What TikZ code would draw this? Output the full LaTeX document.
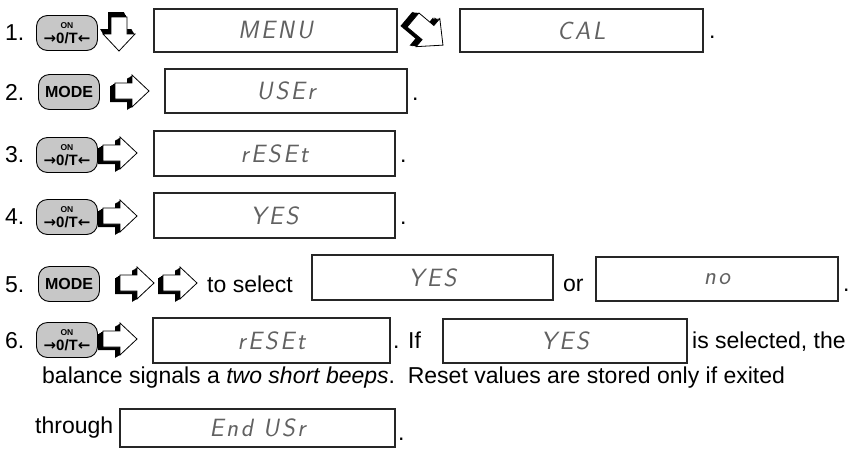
\documentclass[tikz,border=0pt]{standalone}
\usepackage{fontspec}
\setmainfont{Liberation Sans}
\newfontfamily\segfont{Latin Modern Sans}[LetterSpace=10,FakeSlant=0.18]
\newfontfamily\arrfont{DejaVu Sans}
\newcommand\onkey{{\fontsize{8.5}{9}\selectfont ON}\\[3pt]{\fontsize{15}{15}\selectfont{\arrfont\bfseries →}0/T{\arrfont\bfseries ←}}}
\begin{document}
\begin{tikzpicture}[x=1pt,y=-1pt,
  disp/.style={draw=black!85,line width=1.5pt,inner sep=0pt,
    font=\segfont\fontsize{25}{25}\selectfont,text=black!62},
  btn/.style={draw=black,line width=0.9pt,rounded corners=11pt,fill=black!22,
    minimum width=61pt,minimum height=35pt,inner sep=0pt,align=center,
    font=\bfseries\fontsize{16}{10}\selectfont},
  txt/.style={anchor=base west,inner sep=0pt,font=\fontsize{23}{27}\selectfont},
  blkarrow/.pic={
    \foreach \s in {0.2,0.4,...,1.0}{
      \fill[black,shift={(-5*\s,3*\s)}] (0,-8) -- (17,-8) -- (17,-16) -- (34,0) -- (17,16) -- (17,8) -- (0,8) -- cycle;}
    \draw[fill=white,line width=0.8pt,line join=miter] (0,-8) -- (17,-8) -- (17,-16) -- (34,0) -- (17,16) -- (17,8) -- (0,8) -- cycle;
  }]
\useasboundingbox (0,0) rectangle (853,448);

% ---- row 1
\node[txt] (n1) at (5,40) {1.};
\node[btn] (k1) at (67,33) {\onkey};
\pic[rotate=-90] at (119,17) {blkarrow};
\node[disp,minimum width=243pt,minimum height=43pt] (d1) at (275.5,30.5) {MENU};
\pic[rotate=-40,scale=1.15] at (413,20) {blkarrow};
\node[disp,minimum width=243pt,minimum height=43pt] (d2) at (581.5,30.5) {CAL};
\node[txt] (p1) at (709,38) {.};

% ---- row 2
\node[txt] (n2) at (5,100) {2.};
\node[btn] (k2) at (69,92) {MODE};
\pic at (115,91) {blkarrow};
\node[disp,minimum width=242pt,minimum height=44pt] (d3) at (286,91) {USEr};
\node[txt] (p2) at (412,100) {.};

% ---- row 3
\node[txt] (n3) at (5,162) {3.};
\node[btn] (k3) at (67,155) {\onkey};
\pic at (103,153) {blkarrow};
\node[disp,minimum width=241pt,minimum height=45pt] (d4) at (274.5,153.5) {rESEt};
\node[txt] (p3) at (400,162) {.};

% ---- row 4
\node[txt] (n4) at (5,224) {4.};
\node[btn] (k4) at (67,217) {\onkey};
\pic at (103,216) {blkarrow};
\node[disp,minimum width=241pt,minimum height=45pt] (d5) at (274.5,215.5) {YES};
\node[txt] (p4) at (400,224) {.};

% ---- row 5
\node[txt] (n5) at (5,292) {5.};
\node[btn] (k5) at (69,284) {MODE};
\pic at (120,283) {blkarrow};
\pic at (163,283) {blkarrow};
\node[txt] (t5) at (207,292) {to select};
\node[disp,minimum width=241pt,minimum height=45pt] (d6) at (432.5,277.5) {YES};
\node[txt] (or) at (563,291) {or};
\node[disp,minimum width=242pt,minimum height=44pt] (d7) at (717,279) {no};
\node[txt] (p5) at (843,291) {.};

% ---- row 6
\node[txt] (n6) at (5,348) {6.};
\node[btn] (k6) at (67,340) {\onkey};
\pic at (103,339) {blkarrow};
\node[disp,minimum width=237pt,minimum height=45pt] (d8) at (271.5,340.5) {rESEt};
\node[txt] (t6) at (393,348) {. If};
\node[disp,minimum width=244pt,minimum height=44pt] (d9) at (565,341) {YES};
\node[txt] (t7) at (692,348) {is selected, the};

% ---- lines 7, 8
\node[txt] (l7) at (42,383) {balance signals a \textit{two short beeps}.\ \ Reset values are stored only if exited};
\node[txt] (l8) at (35,433) {through};
\node[disp,minimum width=275pt,minimum height=38pt] (d10) at (257.5,428) {End USr};
\node[txt] (p8) at (398,440) {.};
\end{tikzpicture}
\end{document}
